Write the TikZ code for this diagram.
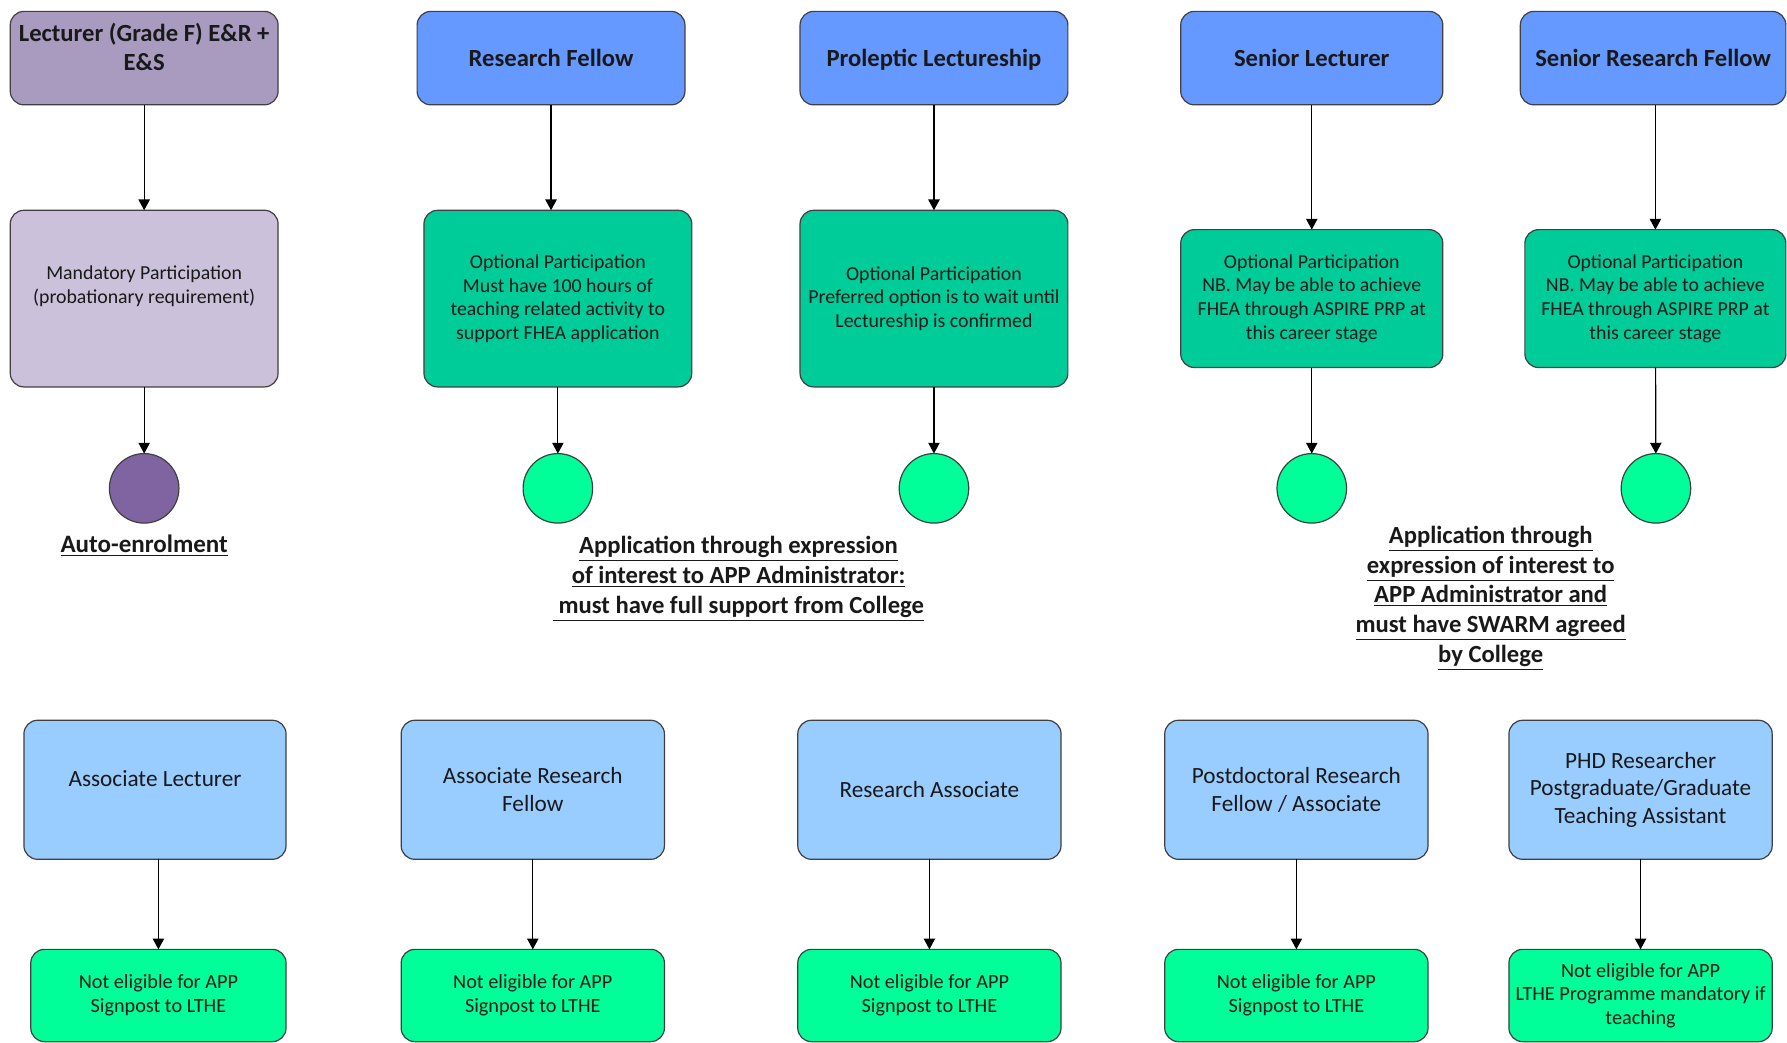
\documentclass[tikz,border=0pt]{standalone}
\usepackage{fontspec}
\setmainfont{Carlito}
\usetikzlibrary{arrows.meta, calc}

\definecolor{gradef}{HTML}{A99BBF}
\definecolor{mandfill}{HTML}{CCC1DA}
\definecolor{postblue}{HTML}{6699FF}
\definecolor{optgreen}{HTML}{00CC99}
\definecolor{brightgreen}{HTML}{00FF99}
\definecolor{paleblue}{HTML}{99CCFF}
\definecolor{autopurple}{HTML}{8064A2}

\begin{document}
\begin{tikzpicture}[x=0.2mm, y=-0.2mm, font=\fontsize{9.9}{11.8}\selectfont]
  % one unit = one pixel of a 1568 x 915 layout, y runs downwards
  \tikzset{
    box/.style={draw=black!75, line width=0.6pt, rounded corners=2.4mm, align=center,
      inner sep=1pt, outer sep=0pt, text=black!90},
    post/.style={box, fill=postblue, minimum width=47mm, minimum height=16.4mm,
      text depth=0pt, font=\fontsize{12.3}{14.2}\selectfont\bfseries},
    option/.style={box, fill=optgreen, minimum width=47mm, minimum height=31mm},
    role/.style={box, fill=paleblue, minimum width=46.2mm, minimum height=24.4mm,
      font=\fontsize{11.6}{13.8}\selectfont},
    outcome/.style={box, fill=brightgreen, minimum width=46.2mm, minimum height=16.2mm,
      font=\fontsize{10.1}{11.8}\selectfont},
    dot/.style={circle, draw=black!75, line width=0.6pt, fill=brightgreen,
      minimum size=12.2mm, inner sep=0pt, outer sep=0pt},
    note/.style={align=center, text=black!90, font=\fontsize{12.3}{14.8}\selectfont\bfseries},
    lift/.style={text depth=4mm},
    link/.style={-{Triangle[width=2mm, length=1.9mm]}, line width=0.6pt}
  }

  \fill[white] (0,0) rectangle (1568,915);
  \useasboundingbox (0,0) rectangle (1568,915);

  % top row: posts
  \node[post, fill=gradef, lift] (lect) at (126.5,51) {Lecturer (Grade F) E\&R +\\E\&S};
  \node[post] (rf) at (483.5,51) {Research Fellow};
  \node[post] (prol) at (819.5,51) {Proleptic Lectureship};
  \node[post, minimum width=46mm] (sl) at (1151,51) {Senior Lecturer};
  \node[post, minimum width=46.6mm] (srf) at (1450.5,51) {Senior Research Fellow};

  % second row: participation
  \node[option, fill=mandfill, text depth=4.8mm] (mand) at (126.5,262)
    {Mandatory Participation\\(probationary requirement)};
  \node[option] (rfopt) at (489.5,262)
    {Optional Participation\\Must have 100 hours of\\teaching related activity to\\support FHEA application};
  \node[option] (prolopt) at (819.5,262)
    {Optional Participation\\Preferred option is to wait until\\Lectureship is confirmed};
  \node[option, minimum width=46mm, minimum height=24.2mm] (slopt) at (1151,262)
    {Optional Participation\\NB. May be able to achieve\\FHEA through ASPIRE PRP at\\this career stage};
  \node[option, minimum width=45.8mm, minimum height=24.2mm] (srfopt) at (1452.5,262)
    {Optional Participation\\NB. May be able to achieve\\FHEA through ASPIRE PRP at\\this career stage};

  % end points
  \node[dot, fill=autopurple] (auto) at (126.5,428.5) {};
  \node[dot] (rfdot) at (489.5,428.5) {};
  \node[dot] (proldot) at (819.5,428.5) {};
  \node[dot] (sldot) at (1151,428.5) {};
  \node[dot] (srfdot) at (1453,428.5) {};

  \node[note, font=\fontsize{12.5}{14}\selectfont\bfseries] (autonote) at (126.5,479)
    {\underline{Auto-enrolment}};
  \node[note] (collegenote) at (648,508)
    {\underline{Application through expression}\\\underline{of interest to APP Administrator:}\\\underline{\ must have full support from College}};
  \node[note] (swarmnote) at (1308,525)
    {\underline{Application through}\\\underline{expression of interest to}\\\underline{APP Administrator and}\\\underline{must have SWARM agreed}\\\underline{by College}};

  \draw[link] (lect) -- (mand);
  \draw[link] (rf.south) -- (rf.south |- rfopt.north);
  \draw[link] (prol) -- (prolopt);
  \draw[link] (sl) -- (slopt);
  \draw[link] (srf.south -| srfopt.north) -- (srfopt);
  \foreach \a/\b in {mand/auto, rfopt/rfdot, prolopt/proldot, slopt/sldot, srfopt/srfdot}
    \draw[link] (\a) -- (\b);

  % bottom row: roles not eligible
  \node[role, lift, minimum width=46mm] (al) at (136,693) {Associate Lecturer};
  \node[role] (arf) at (467.5,693) {Associate Research\\Fellow};
  \node[role] (ra) at (815.5,693) {Research Associate};
  \node[role] (pdr) at (1137.5,693) {Postdoctoral Research\\Fellow / Associate};
  \node[role] (phd) at (1439.5,693) {PHD Researcher\\Postgraduate/Graduate\\Teaching Assistant};

  \node[outcome, minimum width=44.8mm] (al-out) at (139,873.5) {Not eligible for APP\\Signpost to LTHE};
  \node[outcome] (arf-out) at (467.5,873.5) {Not eligible for APP\\Signpost to LTHE};
  \node[outcome] (ra-out) at (815.5,873.5) {Not eligible for APP\\Signpost to LTHE};
  \node[outcome] (pdr-out) at (1137.5,873.5) {Not eligible for APP\\Signpost to LTHE};
  \node[outcome] (phd-out) at (1439.5,873.5) {Not eligible for APP\\LTHE Programme mandatory if\\teaching};

  \draw[link] (al.south -| al-out.north) -- (al-out);
  \foreach \n in {arf, ra, pdr, phd}
    \draw[link] (\n) -- (\n-out);
\end{tikzpicture}
\end{document}
